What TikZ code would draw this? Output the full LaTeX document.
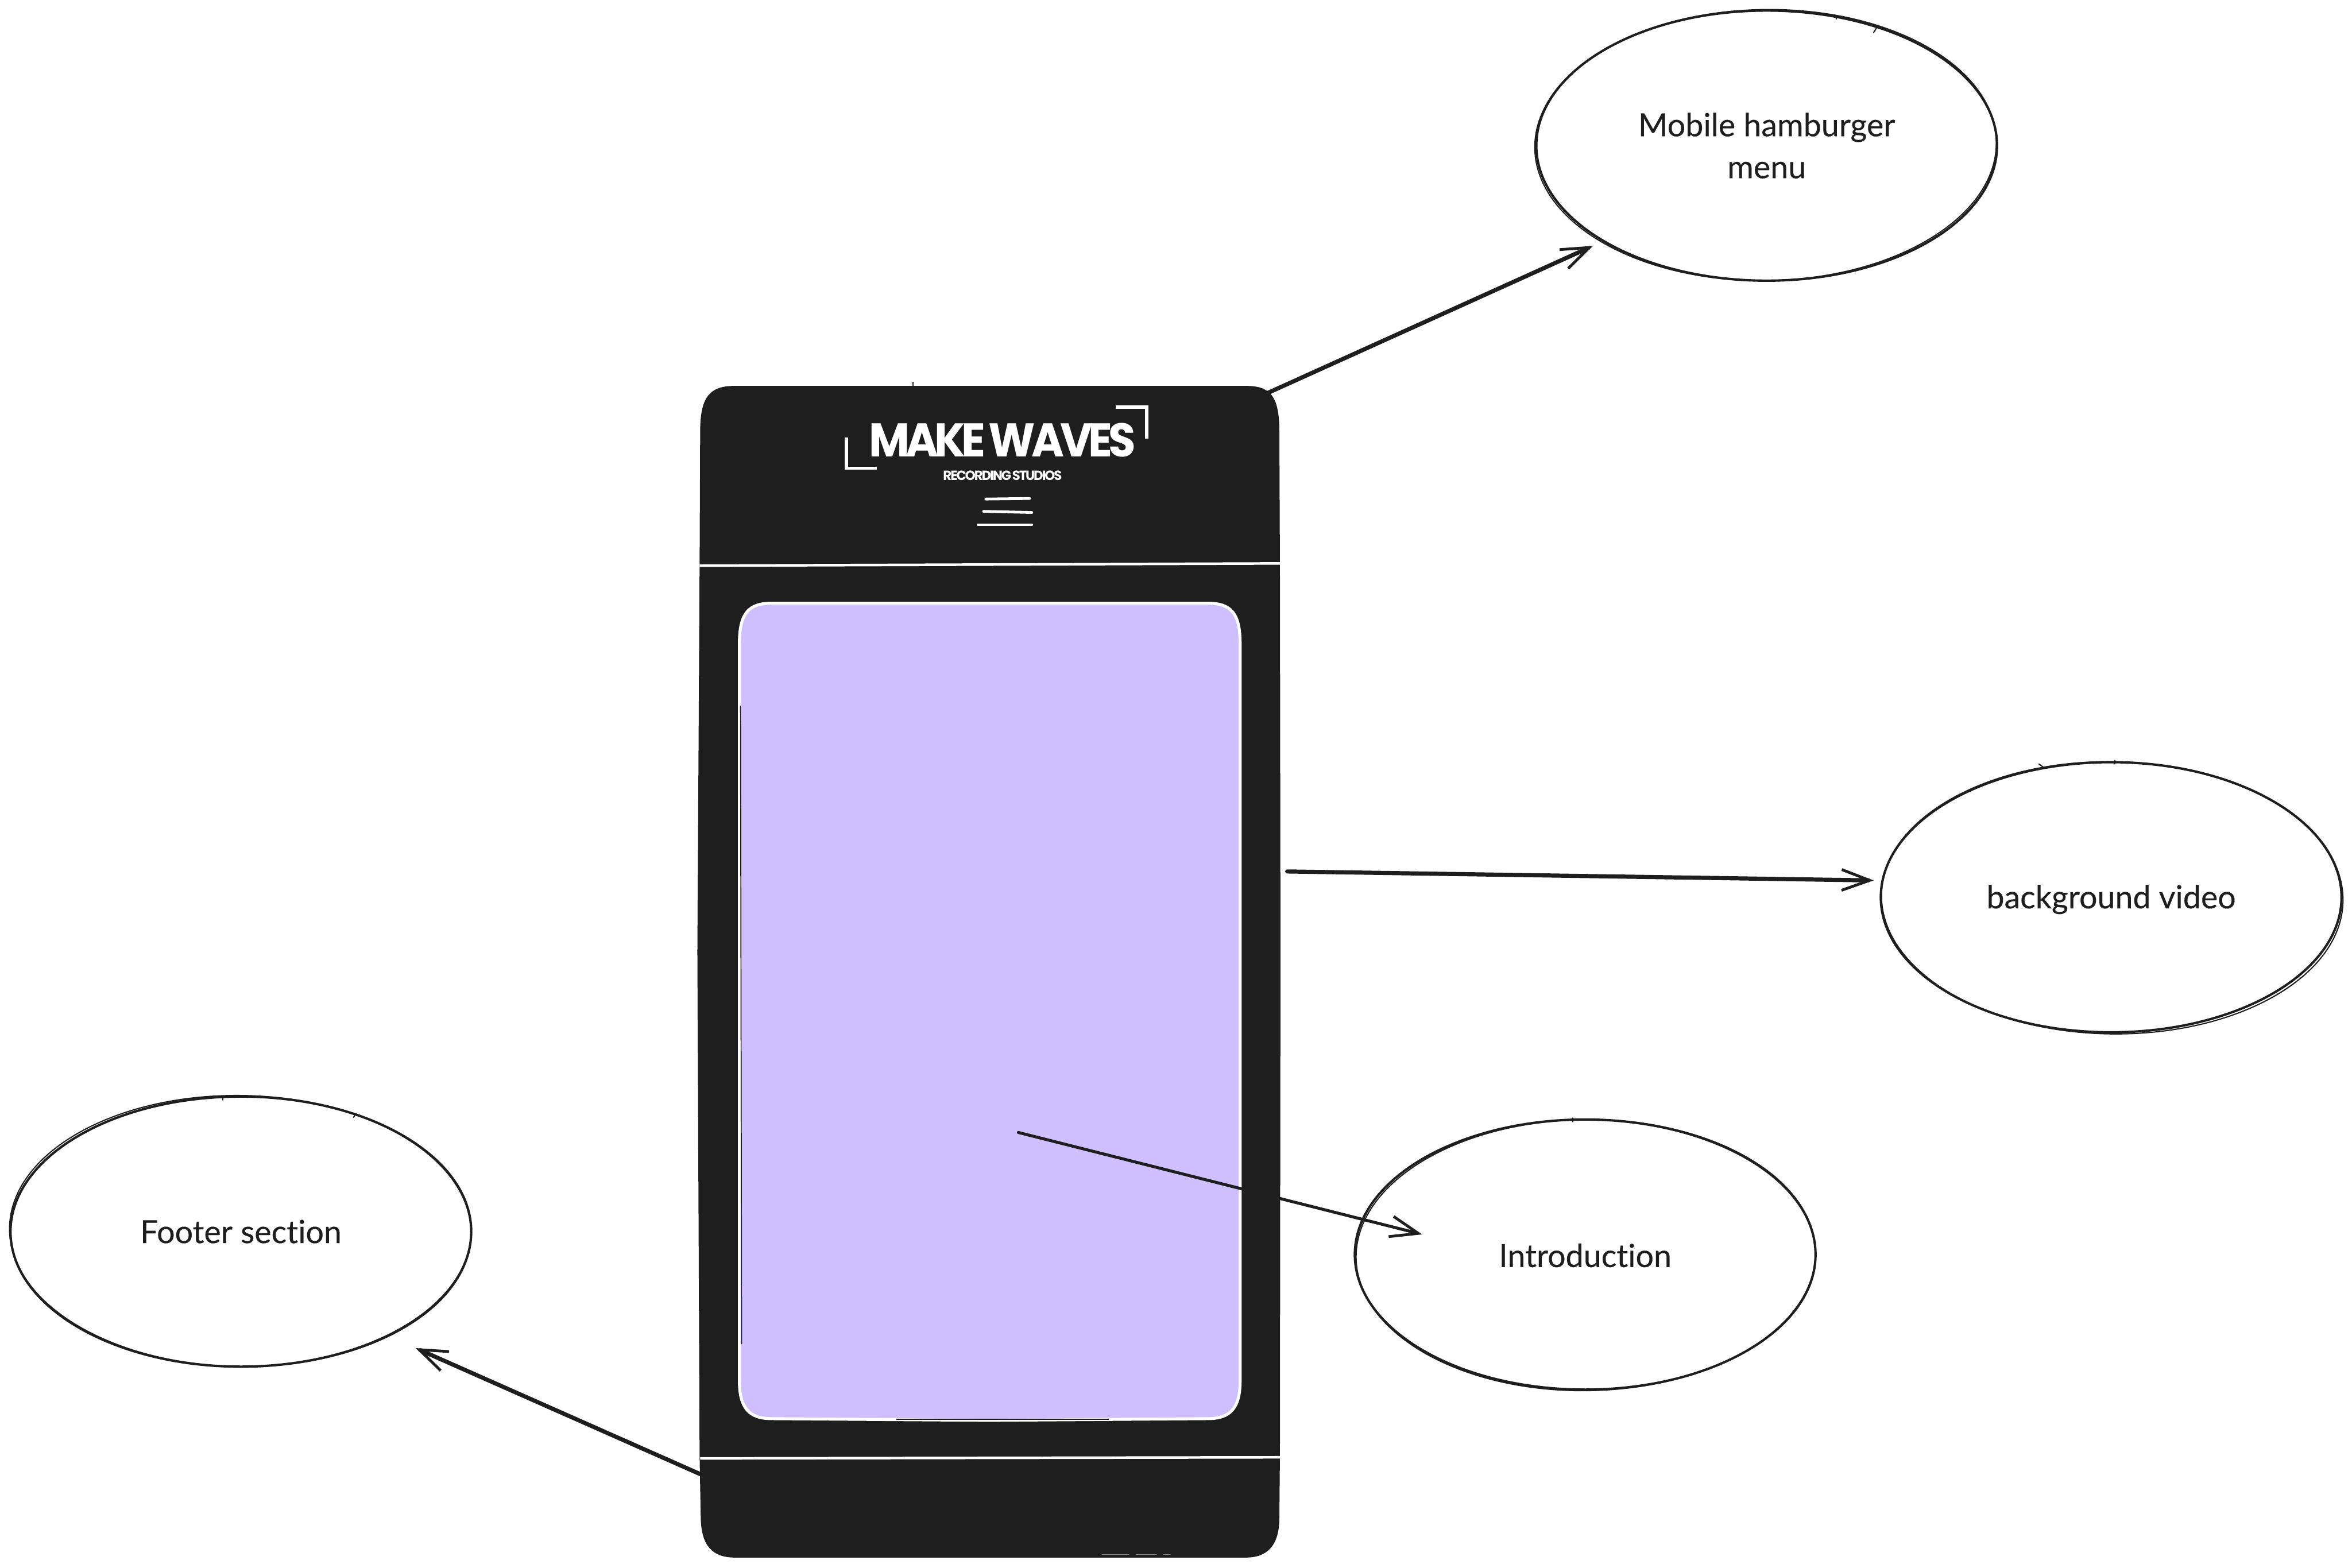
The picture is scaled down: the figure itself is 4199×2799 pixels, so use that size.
\documentclass[tikz,border=0pt]{standalone}
\usepackage{fontspec}
\usepackage{graphicx}
\setmainfont[Ligatures=NoCommon,FakeBold=0.25]{Lato}
\newfontfamily\logofont[LetterSpace=-9,WordSpace=0.55]{Poppins}
\usetikzlibrary{shapes.geometric,arrows.meta}
\definecolor{ink}{HTML}{1E1E1E}
\definecolor{lilac}{HTML}{D0BFFF}
\tikzset{
  bubble/.style={ellipse,draw=ink,line width=1.2pt,minimum width=8.22cm,minimum height=4.82cm,inner sep=0pt,align=center,
    text=ink,font=\fontsize{16.2}{21.3}\selectfont},
  sketch/.style={draw=ink,line width=0.6pt,line cap=round},
  link/.style={draw=ink,line width=2.1pt,line cap=round,-{Straight Barb[length=5mm,width=3.7mm,line width=1.4pt]}},
  whiteline/.style={draw=white,line width=1.3pt},
  burger/.style={draw=white,line width=1.4pt,line cap=round},
  shell/.style={minimum width=10.36cm,minimum height=20.93cm,inner sep=0pt},
  panel/.style={minimum width=8.95cm,minimum height=14.6cm,inner sep=0pt},
  logotext/.style={text=white,inner sep=0pt},
}
\begin{document}
\begin{tikzpicture}[x=0.01cm,y=-0.01cm]
\useasboundingbox (0,0) rectangle (4199,2799);
% phone outline
\fill[ink] (1312,689) -- (2224,689) .. controls (2266,689) and (2284,705) .. (2284,770)
  -- (2285,1010) -- (2286,1700) -- (2285,2600) -- (2284,2710)
  .. controls (2284,2760) and (2262,2781) .. (2224,2781) -- (1312,2781)
  .. controls (1272,2781) and (1252,2760) .. (1251,2710) -- (1249,2600) -- (1245,1700) -- (1249,1007) -- (1250,770)
  .. controls (1250,705) and (1270,689) .. (1312,689) -- cycle;
\node[shell] (phone) at (1767,1735) {};
\draw[ink,line width=0.6pt] (1630,682) -- (1630,690);
% dividers
\coordinate (divAw) at (1249,1010);
\coordinate (divAe) at (2286,1006);
\coordinate (divBw) at (1250,2604);
\coordinate (divBe) at (2286,2602);
\draw[whiteline] (divAw) -- (divAe);
\draw[whiteline] (divBw) -- (divBe);
% screen panel
\filldraw[fill=lilac,draw=white,line width=1.5pt] (1378,1077) -- (2156,1077)
  .. controls (2198,1077) and (2214,1095) .. (2214,1150) -- (2214,2465)
  .. controls (2214,2515) and (2196,2533) .. (2156,2533) -- (1766,2536) -- (1378,2533)
  .. controls (1338,2533) and (1320,2515) .. (1320,2465) -- (1320,1150)
  .. controls (1320,1095) and (1336,1077) .. (1378,1077) -- cycle;
\node[panel] (screen) at (1767,1805) {};
\draw[ink,line width=0.5pt] (1322,1260) -- (1324,2400);
\draw[ink,line width=0.6pt] (1600,2534) -- (1980,2534);
\draw[gray,line width=0.3pt] (1967,2776) -- (2016,2776) (2028,2776) -- (2066,2776) (2076,2776) -- (2090,2776);
% logo
\node[logotext,anchor=north west] (logoMain) at (1551,755) {\resizebox{4.76cm}{0.6cm}{\logofont\bfseries MAKE WAVES}};
\node[logotext,anchor=north west] (logoSub) at (1683,840) {\resizebox{2.12cm}{0.17cm}{\logofont\bfseries RECORDING STUDIOS}};
\draw[white,line width=1.6pt] (1992,727) -- (2047,727) -- (2047,783);
\draw[white,line width=1.6pt] (1511,781) -- (1511,836) -- (1565,836);
% hamburger
\draw[burger] (1760,891) -- (1838,890);
\draw[burger] (1756,913) -- (1842,915);
\draw[burger] (1746,937) -- (1842,937);
% bubbles
\node[bubble] (menu) at (3154,260) {Mobile hamburger\\menu};
\node[bubble] (video) at (3769,1602) {\rule{0pt}{0.5cm}background video};
\node[bubble] (intro) at (2830,2240) {\rule{0pt}{0.45cm}Introduction};
\node[bubble] (footer) at (430,2199) {Footer section};
% second pencil strokes and overshoots
\draw[sketch,rotate around={0.8:(3154,260)}] (3152,259) ellipse (412 and 242);
\draw[sketch,rotate around={-0.8:(3769,1602)}] (3771,1603) ellipse (412 and 243);
\draw[sketch,rotate around={0.7:(2830,2240)}] (2831,2241) ellipse (410 and 242);
\draw[sketch,rotate around={-0.8:(430,2199)}] (429,2198) ellipse (412 and 242);
\draw[sketch] (3350,50) -- (3345,58);
\draw[sketch] (3280,28) -- (3278,34);
\draw[sketch] (3640,1364) -- (3648,1370);
\draw[sketch] (3776,1358) -- (3776,1364);
\draw[sketch] (2808,1996) -- (2808,2003);
\draw[sketch] (398,1958) -- (398,1964);
\draw[sketch] (636,1988) -- (631,1995);
% connectors
\coordinate (a1s) at (2258,704);
\coordinate (a1e) at (2844,439);
\coordinate (a2s) at (2298,1556);
\coordinate (a2e) at (3345,1572);
\coordinate (a3s) at (1818,2022);
\coordinate (a3e) at (2539,2204);
\coordinate (a4s) at (1250,2632);
\coordinate (a4e) at (742,2407);
\draw[link] (a1s) -- (a1e);
\draw[link] (a2s) -- (a2e);
\draw[link,line width=1.5pt] (a3s) -- (a3e);
\draw[link] (a4s) -- (a4e);
\end{tikzpicture}
\end{document}
